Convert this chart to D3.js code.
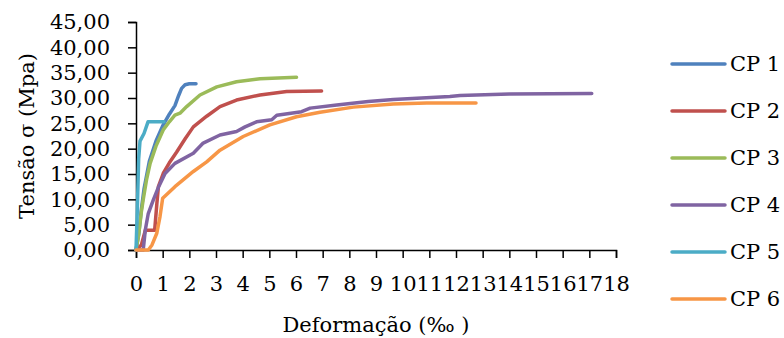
<!DOCTYPE html>
<html>
<head>
<meta charset="utf-8">
<script src="https://cdn.jsdelivr.net/npm/d3@7"></script>
<style>
  body { margin: 0; background: #fff; }
  text { font-family: "DejaVu Serif", serif; fill: #000; }
</style>
</head>
<body>
<div id="chart"></div>
<script>
// series names, colours
const seriesNames = ["CP 1", "CP 2", "CP 3", "CP 4", "CP 5", "CP 6"];
const seriesColors = ["#4F81BD", "#C0504D", "#9BBB59", "#8064A2", "#4BACC6", "#F79646"];

// [deformação ‰, tensão MPa]
const cp1 = [[0,0],[0.1,3],[0.2,8],[0.3,12],[0.5,17.5],[0.75,21.5],[1.0,24.5],[1.25,26.8],[1.46,28.5],[1.6,30.5],[1.71,31.9],[1.84,32.6],[2.0,32.8],[2.25,32.8]];
const cp2 = [[0,0],[0.2,1],[0.35,3.9],[0.7,3.9],[0.78,9],[0.84,12.5],[1.02,15.1],[1.25,17.2],[1.52,19.3],[1.85,22],[2.15,24.3],[2.65,26.4],[3.15,28.3],[3.77,29.6],[4.65,30.6],[5.65,31.3],[6.96,31.4]];
const cp3 = [[0,0],[0.1,3],[0.2,7.5],[0.27,9.9],[0.4,14],[0.53,17.1],[0.75,20.5],[1.02,23.7],[1.25,25.3],[1.46,26.6],[1.65,27],[1.9,28.3],[2.4,30.6],[3.03,32.2],[3.77,33.2],[4.65,33.8],[6.02,34.1]];
const cp4 = [[0,0],[0.27,0],[0.35,4],[0.46,7.2],[0.65,9.9],[0.85,12.5],[1.09,15.1],[1.46,17.1],[2.15,19.1],[2.52,21.1],[3.15,22.7],[3.77,23.4],[4.09,24.3],[4.52,25.3],[5.09,25.7],[5.28,26.6],[6.21,27.3],[6.53,28],[7.53,28.6],[8.71,29.3],[9.65,29.7],[11.77,30.3],[12.15,30.5],[14.0,30.8],[17.09,30.9]];
const cp5 = [[0,0],[0.05,8],[0.1,18],[0.15,21.5],[0.3,23],[0.45,25.3],[1.05,25.3]];
const cp6 = [[0,0],[0.46,0],[0.6,1],[0.78,3.3],[0.9,6.6],[1.0,10.2],[1.46,12.5],[2.15,15.5],[2.65,17.4],[3.15,19.7],[4.02,22.4],[5.02,24.7],[6.02,26.3],[6.9,27.2],[8.15,28.2],[9.65,28.8],[10.9,29.0],[12.75,29.0]];
const series = [cp1, cp2, cp3, cp4, cp5, cp6];

const xTicks = d3.range(0, 19, 1);
const yTicks = d3.range(0, 50, 5);

const width = 784;
const height = 338;
const margin = {top: 22, right: 168, bottom: 88, left: 136};
const fontSize = "21px";

const x = d3.scaleLinear([0, 18], [margin.left, width - margin.right]);
const y = d3.scaleLinear([0, 45], [height - margin.bottom, margin.top]);

const svg = d3.select("#chart").append("svg")
    .attr("width", width)
    .attr("height", height);

const line = d3.line()
    .x(d => x(d[0]))
    .y(d => y(d[1]));

// axes
const yAxis = svg.append("g")
    .attr("transform", `translate(${margin.left},0)`)
    .call(d3.axisLeft(y).tickValues(yTicks).tickSize(8).tickPadding(18)
        .tickFormat(d => d3.format(".2f")(d).replace(".", ",")));

const xAxis = svg.append("g")
    .attr("transform", `translate(0,${y(0)})`)
    .call(d3.axisBottom(x).tickValues(xTicks).tickSize(8).tickPadding(18));

[xAxis, yAxis].forEach(g => {
    g.select(".domain").attr("stroke", "#000").attr("stroke-width", 1.5);
    g.selectAll(".tick line").attr("stroke", "#000").attr("stroke-width", 1.5);
    g.selectAll("text").style("font-family", "DejaVu Serif, serif").style("font-size", fontSize);
});

// lines
svg.selectAll("path.serie")
    .data(series)
    .join("path")
    .attr("class", "serie")
    .attr("fill", "none")
    .attr("stroke", (d, i) => seriesColors[i])
    .attr("stroke-width", 3.5)
    .attr("stroke-linejoin", "round")
    .attr("stroke-linecap", "round")
    .attr("d", line);

// axis titles
svg.append("text")
    .attr("x", (margin.left + width - margin.right) / 2)
    .attr("y", 332)
    .attr("text-anchor", "middle")
    .style("font-size", fontSize)
    .text("Deformação (‰ )");

svg.append("text")
    .attr("transform", `translate(34,${(margin.top + y(0)) / 2}) rotate(-90)`)
    .attr("text-anchor", "middle")
    .style("font-size", fontSize)
    .text("Tensão σ (Mpa)");

// legend
const legend = svg.append("g");
seriesNames.forEach((name, i) => {
    const ly = 64 + i * 47;
    legend.append("line")
        .attr("x1", 672).attr("x2", 725)
        .attr("y1", ly).attr("y2", ly)
        .attr("stroke", seriesColors[i])
        .attr("stroke-width", 3.5)
        .attr("stroke-linecap", "round");
    legend.append("text")
        .attr("x", 730)
        .attr("y", ly)
        .attr("dy", "0.35em")
        .style("font-size", fontSize)
        .text(name);
});
</script>
</body>
</html>
